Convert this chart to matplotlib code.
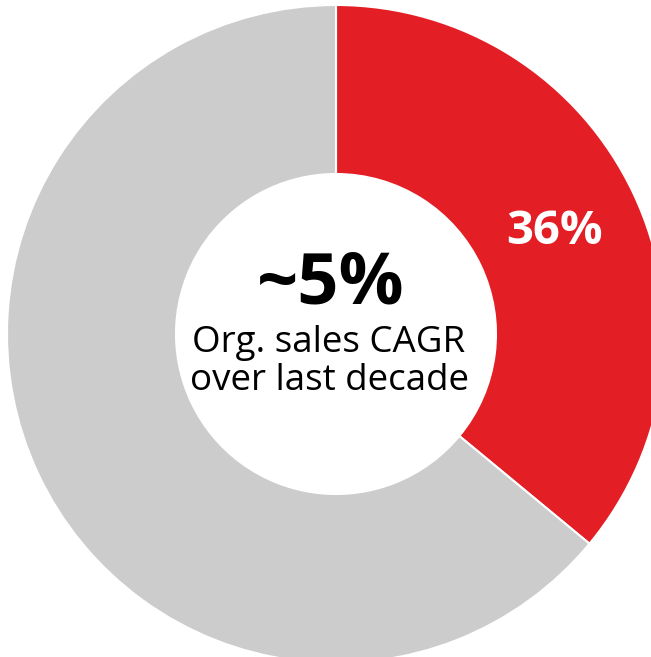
import matplotlib
matplotlib.use("Agg")
import matplotlib.pyplot as plt

# Share of sales: highlighted segment vs the rest
labels = ["Highlighted", "Other"]
shares = [36, 64]
colors = ["#E31E25", "#CCCCCC"]
center_value = "~5%"
center_caption = "Org. sales CAGR\nover last decade"

plt.rcParams['font.family'] = ['Open Sans', 'DejaVu Sans']

W, H = 651, 657
fig = plt.figure(figsize=(W / 100, H / 100), dpi=100)
ax = fig.add_axes([0, 0, 1, 1])

cx, cy = 336, H - 334
r_out, r_in = 329, 160

wedges, _ = ax.pie(shares, colors=colors, startangle=90, counterclock=False,
                   center=(cx, cy), radius=r_out, frame=True,
                   wedgeprops=dict(width=r_out - r_in, edgecolor='white', linewidth=1.5))
ax.set_xlim(0, W)
ax.set_ylim(0, H)
ax.set_aspect('equal')
ax.axis('off')

ax.text(555, H - 232, f"{shares[0]}%", color='white', fontsize=34, fontweight='bold',
        ha='center', va='center')
ax.text(cx - 5, H - 285, center_value, color='black', fontsize=52, fontweight='bold',
        ha='center', va='center')
ax.text(cx - 7, H - 362, center_caption, color='black', fontsize=26.5,
        ha='center', va='center', linespacing=1.05)

fig.savefig("out.png", dpi=100)
